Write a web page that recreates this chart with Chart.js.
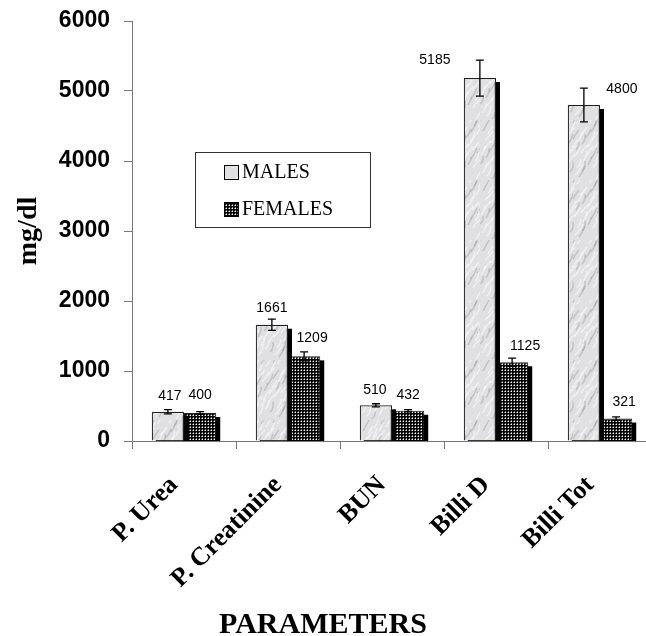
<!DOCTYPE html>
<html>
<head>
<meta charset="utf-8">
<script src="https://cdn.jsdelivr.net/npm/chart.js@4"></script>
<style>
  body { margin: 0; overflow: hidden; background: #fff; }
  #wrap { width: 660px; height: 636px; }
</style>
</head>
<body>
<div id="wrap"><canvas id="myChart" width="660" height="636"></canvas></div>
<script>
const parameters = ['P. Urea', 'P. Creatinine', 'BUN', 'Billi D', 'Billi Tot'];
const males = [417, 1661, 510, 5185, 4800];
const females = [400, 1209, 432, 1125, 321];
const malesErr = [30, 80, 22, 257, 240];
const femalesErr = [20, 65, 15, 60, 25];
const yTicks = [0, 1000, 2000, 3000, 4000, 5000, 6000];

const serif = "'Liberation Serif', 'Times New Roman', serif";
const sans = "'Liberation Sans', Arial, sans-serif";

// light marble look for males
function marble() {
    const c = document.createElement('canvas');
    c.width = 60; c.height = 60;
    const g = c.getContext('2d');
    g.fillStyle = '#e0e0e2';
    g.fillRect(0, 0, 60, 60);
    g.lineWidth = 1.5;
    for (let i = 0; i < 70; i++) {
        const x = (i * 37) % 60, y = (i * 53 + (i % 7) * 11) % 60;
        g.strokeStyle = i % 3 ? 'rgba(250,250,252,0.6)' : 'rgba(140,140,145,0.35)';
        g.beginPath();
        g.moveTo(x, y);
        g.quadraticCurveTo(x + 4, y - 3 - (i % 5), x + 3 + (i % 6), y - 8 - (i % 4));
        g.stroke();
    }
    return g.createPattern(c, 'repeat');
}

// black with white dots for females
function dots() {
    const c = document.createElement('canvas');
    c.width = 3; c.height = 3;
    const g = c.getContext('2d');
    g.fillStyle = '#000';
    g.fillRect(0, 0, 3, 3);
    g.fillStyle = '#777';
    g.fillRect(0, 1, 1, 1);
    g.fillRect(1, 0, 1, 1);
    g.fillStyle = '#fff';
    g.fillRect(1, 1, 1, 1);
    return g.createPattern(c, 'repeat');
}

const malePattern = marble();
const femalePattern = dots();

// black drop shadow right of and below each bar
const shadowPlugin = {
    id: 'barShadow',
    beforeDatasetDraw(chart, args) {
        const ctx = chart.ctx;
        const a = chart.chartArea;
        ctx.save();
        ctx.fillStyle = '#000';
        args.meta.data.forEach(bar => {
            const p = bar.getProps(['x', 'y', 'width', 'base'], true);
            const left = p.x - p.width / 2 + 4;
            const top = Math.min(p.y + 4, a.bottom);
            ctx.fillRect(left, top, p.width, a.bottom - top);
        });
        ctx.restore();
    }
};

const errorPlugin = {
    id: 'errorBars',
    afterDatasetsDraw(chart, args, opts) {
        const ctx = chart.ctx;
        const y = chart.scales.y;
        ctx.save();
        chart.data.datasets.forEach((ds, di) => {
            const meta = chart.getDatasetMeta(di);
            meta.data.forEach((bar, i) => {
                const v = ds.data[i];
                const e = ds.errors[i];
                const top = y.getPixelForValue(v + e);
                const bot = y.getPixelForValue(v - e);
                ctx.strokeStyle = '#000';
                ctx.lineWidth = 1.3;
                ctx.beginPath();
                ctx.moveTo(bar.x, top); ctx.lineTo(bar.x, bot);
                ctx.moveTo(bar.x - 4, top); ctx.lineTo(bar.x + 4, top);
                ctx.moveTo(bar.x - 4, bot); ctx.lineTo(bar.x + 4, bot);
                ctx.stroke();
                // value label
                const s = opts.shift[di][i];
                ctx.fillStyle = '#000';
                ctx.font = '14px ' + sans;
                ctx.textAlign = 'center';
                ctx.textBaseline = 'middle';
                ctx.fillText(String(v), bar.x + s[0], top + s[1]);
            });
        });
        ctx.restore();
    }
};

const legendPlugin = {
    id: 'boxLegend',
    afterDraw(chart, args, opts) {
        const ctx = chart.ctx;
        const a = chart.chartArea;
        const x = a.left + opts.x, y = a.top + opts.y;
        ctx.save();
        ctx.strokeStyle = '#333';
        ctx.lineWidth = 1;
        ctx.strokeRect(x + 0.5, y + 0.5, opts.w, opts.h);
        ctx.font = '20px ' + serif;
        ctx.textBaseline = 'middle';
        ctx.textAlign = 'left';
        chart.data.datasets.forEach((ds, i) => {
            const cy = y + 20 + i * 37;
            ctx.fillStyle = ds.backgroundColor;
            ctx.fillRect(x + 29, cy - 7, 14, 14);
            ctx.strokeStyle = '#000';
            ctx.strokeRect(x + 29.5, cy - 6.5, 14, 14);
            ctx.fillStyle = '#000';
            ctx.fillText(ds.label, x + 47, cy + 1);
        });
        ctx.restore();
    }
};

// x axis title centred on the page
const xTitlePlugin = {
    id: 'xTitle',
    afterDraw(chart, args, opts) {
        const ctx = chart.ctx;
        ctx.save();
        ctx.fillStyle = '#000';
        ctx.font = 'bold 30px ' + serif;
        ctx.textAlign = 'center';
        ctx.textBaseline = 'middle';
        ctx.fillText(opts.text, opts.x, chart.height - opts.fromBottom);
        ctx.restore();
    }
};

new Chart(document.getElementById('myChart'), {
    type: 'bar',
    data: {
        labels: parameters,
        datasets: [
            {
                label: 'MALES',
                data: males,
                errors: malesErr,
                backgroundColor: malePattern,
                borderColor: '#222',
                borderWidth: 1.2,
                clip: 0
            },
            {
                label: 'FEMALES',
                data: females,
                errors: femalesErr,
                backgroundColor: femalePattern,
                borderColor: '#222',
                borderWidth: 1,
                clip: 0
            }
        ]
    },
    options: {
        responsive: false,
        animation: false,
        devicePixelRatio: 1,
        categoryPercentage: 0.62,
        barPercentage: 1,
        layout: { padding: { left: 8, right: 8, top: 21, bottom: 35 } },
        scales: {
            x: {
                afterFit: scale => { scale.height = 160; },
                grid: { drawOnChartArea: false, tickLength: 8, color: '#777' },
                border: { color: '#777', width: 1 },
                ticks: {
                    autoSkip: false,
                    minRotation: 45,
                    maxRotation: 45,
                    padding: 21,
                    labelOffset: -10,
                    color: '#000',
                    font: { family: serif, size: 26, weight: 'bold' }
                }
            },
            y: {
                min: 0,
                max: 6000,
                afterFit: scale => {
                    scale.width = 124;
                    scale.paddingTop = 0;
                    scale.paddingBottom = 0;
                },
                afterBuildTicks: scale => { scale.ticks = yTicks.map(v => ({ value: v })); },
                grid: { drawOnChartArea: false, tickLength: 8, color: '#777' },
                border: { color: '#777', width: 1 },
                ticks: {
                    padding: 14,
                    color: '#000',
                    callback: v => String(v),
                    font: { family: sans, size: 23, weight: 'bold' }
                },
                title: {
                    display: true,
                    text: 'mg/dl',
                    color: '#000',
                    font: { family: serif, size: 28, weight: 'bold' }
                }
            }
        },
        plugins: {
            legend: { display: false },
            tooltip: { enabled: false },
            errorBars: {
                shift: [
                    [[2, -14], [0, -11], [-1, -14], [-45, 0], [38, 1]],
                    [[0, -16], [8, -14], [0, -15], [13, -12], [8, -15]]
                ]
            },
            boxLegend: { x: 63, y: 131, w: 175, h: 75 },
            xTitle: { text: 'PARAMETERS', x: 323, fromBottom: 11 }
        }
    },
    plugins: [shadowPlugin, errorPlugin, legendPlugin, xTitlePlugin]
});
</script>
</body>
</html>
